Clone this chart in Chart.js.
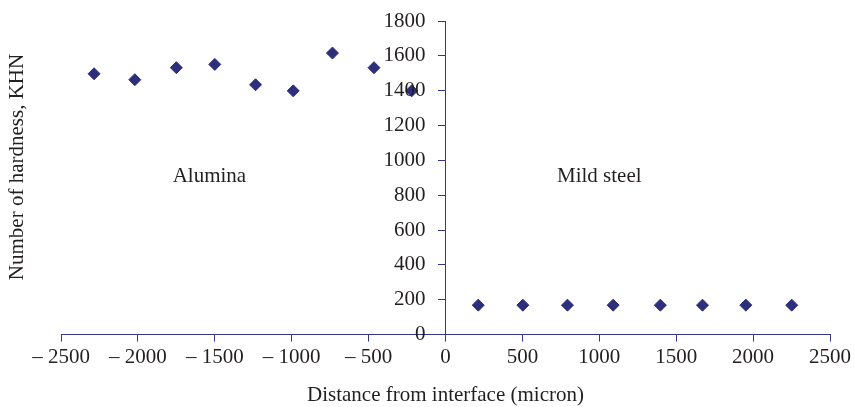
<!DOCTYPE html>
<html>
<head>
<meta charset="utf-8">
<script src="https://cdn.jsdelivr.net/npm/chart.js@4"></script>
<style>
  html, body { margin: 0; padding: 0; background: #ffffff; }
  #wrap { width: 854px; height: 407px; position: relative; }
</style>
</head>
<body>
<div id="wrap"><canvas id="hardnessChart"></canvas></div>
<script>
// measured hardness, left side of interface (alumina) and right side (mild steel)
const aluminaX = [-2285, -2020, -1750, -1500, -1235, -990, -735, -465, -220];
const aluminaY = [1497, 1463, 1532, 1551, 1434, 1399, 1616, 1532, 1399];
const steelX = [213, 503, 793, 1090, 1397, 1671, 1953, 2251];
const steelY = [169, 169, 169, 169, 169, 169, 169, 169];

const xTicks = [-2500, -2000, -1500, -1000, -500, 0, 500, 1000, 1500, 2000, 2500];
const yTicks = [0, 200, 400, 600, 800, 1000, 1200, 1400, 1600, 1800];

const regionLabels = [
    { text: "Alumina", x: -1535, y: 910 },
    { text: "Mild steel", x: 1000, y: 910 }
];

const axisColor = "#34378a";
const markColor = "#2d2f7c";
const textColor = "#231f20";
const serif = "'Liberation Serif', 'Times New Roman', serif";
const fontSize = 21;

function toPoints(xs, ys) {
    return xs.map((x, i) => ({ x: x, y: ys[i] }));
}

const textPlugin = {
    id: "textPlugin",
    afterDraw(chart) {
        const ctx = chart.ctx;
        const xs = chart.scales.x, ys = chart.scales.y;
        ctx.save();
        ctx.fillStyle = textColor;
        ctx.font = fontSize + "px " + serif;
        ctx.textBaseline = "middle";

        // y tick labels, left of the centred axis
        ctx.textAlign = "right";
        const axisX = xs.getPixelForValue(0);
        yTicks.forEach(v => {
            ctx.fillText(String(v), axisX - 20, ys.getPixelForValue(v));
        });

        ctx.textAlign = "center";
        regionLabels.forEach(l => {
            ctx.fillText(l.text, xs.getPixelForValue(l.x), ys.getPixelForValue(l.y));
        });

        // y axis title, kept at the left edge
        ctx.translate(17, 167);
        ctx.rotate(-Math.PI / 2);
        ctx.fillText("Number of hardness, KHN", 0, 0);
        ctx.restore();
    }
};

const ctx = document.getElementById("hardnessChart").getContext("2d");
new Chart(ctx, {
    type: "scatter",
    data: {
        datasets: [{
            label: "Alumina",
            data: toPoints(aluminaX, aluminaY),
            pointStyle: "rectRot",
            pointRadius: 6,
            pointHoverRadius: 6,
            backgroundColor: markColor,
            borderColor: markColor,
            borderWidth: 1
        }, {
            label: "Mild steel",
            data: toPoints(steelX, steelY),
            pointStyle: "rectRot",
            pointRadius: 6,
            pointHoverRadius: 6,
            backgroundColor: markColor,
            borderColor: markColor,
            borderWidth: 1
        }]
    },
    options: {
        responsive: true,
        maintainAspectRatio: false,
        animation: false,
        layout: { padding: { left: 61, right: 19, top: 21, bottom: -1 } },
        plugins: {
            legend: { display: false },
            tooltip: { enabled: false }
        },
        scales: {
            x: {
                type: "linear",
                position: "bottom",
                min: -2500,
                max: 2500,
                afterBuildTicks: axis => { axis.ticks = xTicks.map(v => ({ value: v })); },
                ticks: {
                    color: textColor,
                    font: { family: serif, size: fontSize },
                    padding: 3,
                    maxRotation: 0,
                    autoSkip: false,
                    callback: v => v < 0 ? "\u2013 " + Math.abs(v) : String(v)
                },
                grid: {
                    drawOnChartArea: false,
                    drawTicks: true,
                    tickLength: 7,
                    color: axisColor
                },
                border: { color: axisColor, width: 1 },
                title: {
                    display: true,
                    text: "Distance from interface (micron)",
                    color: textColor,
                    font: { family: serif, size: fontSize },
                    padding: { top: 10, bottom: 0 }
                }
            },
            y: {
                type: "linear",
                position: { x: 0 },
                min: 0,
                max: 1800,
                afterBuildTicks: axis => { axis.ticks = yTicks.map(v => ({ value: v })); },
                ticks: { display: false },
                grid: {
                    drawOnChartArea: false,
                    drawTicks: true,
                    tickLength: 7,
                    color: axisColor
                },
                border: { color: axisColor, width: 1 }
            }
        }
    },
    plugins: [textPlugin]
});
</script>
</body>
</html>
